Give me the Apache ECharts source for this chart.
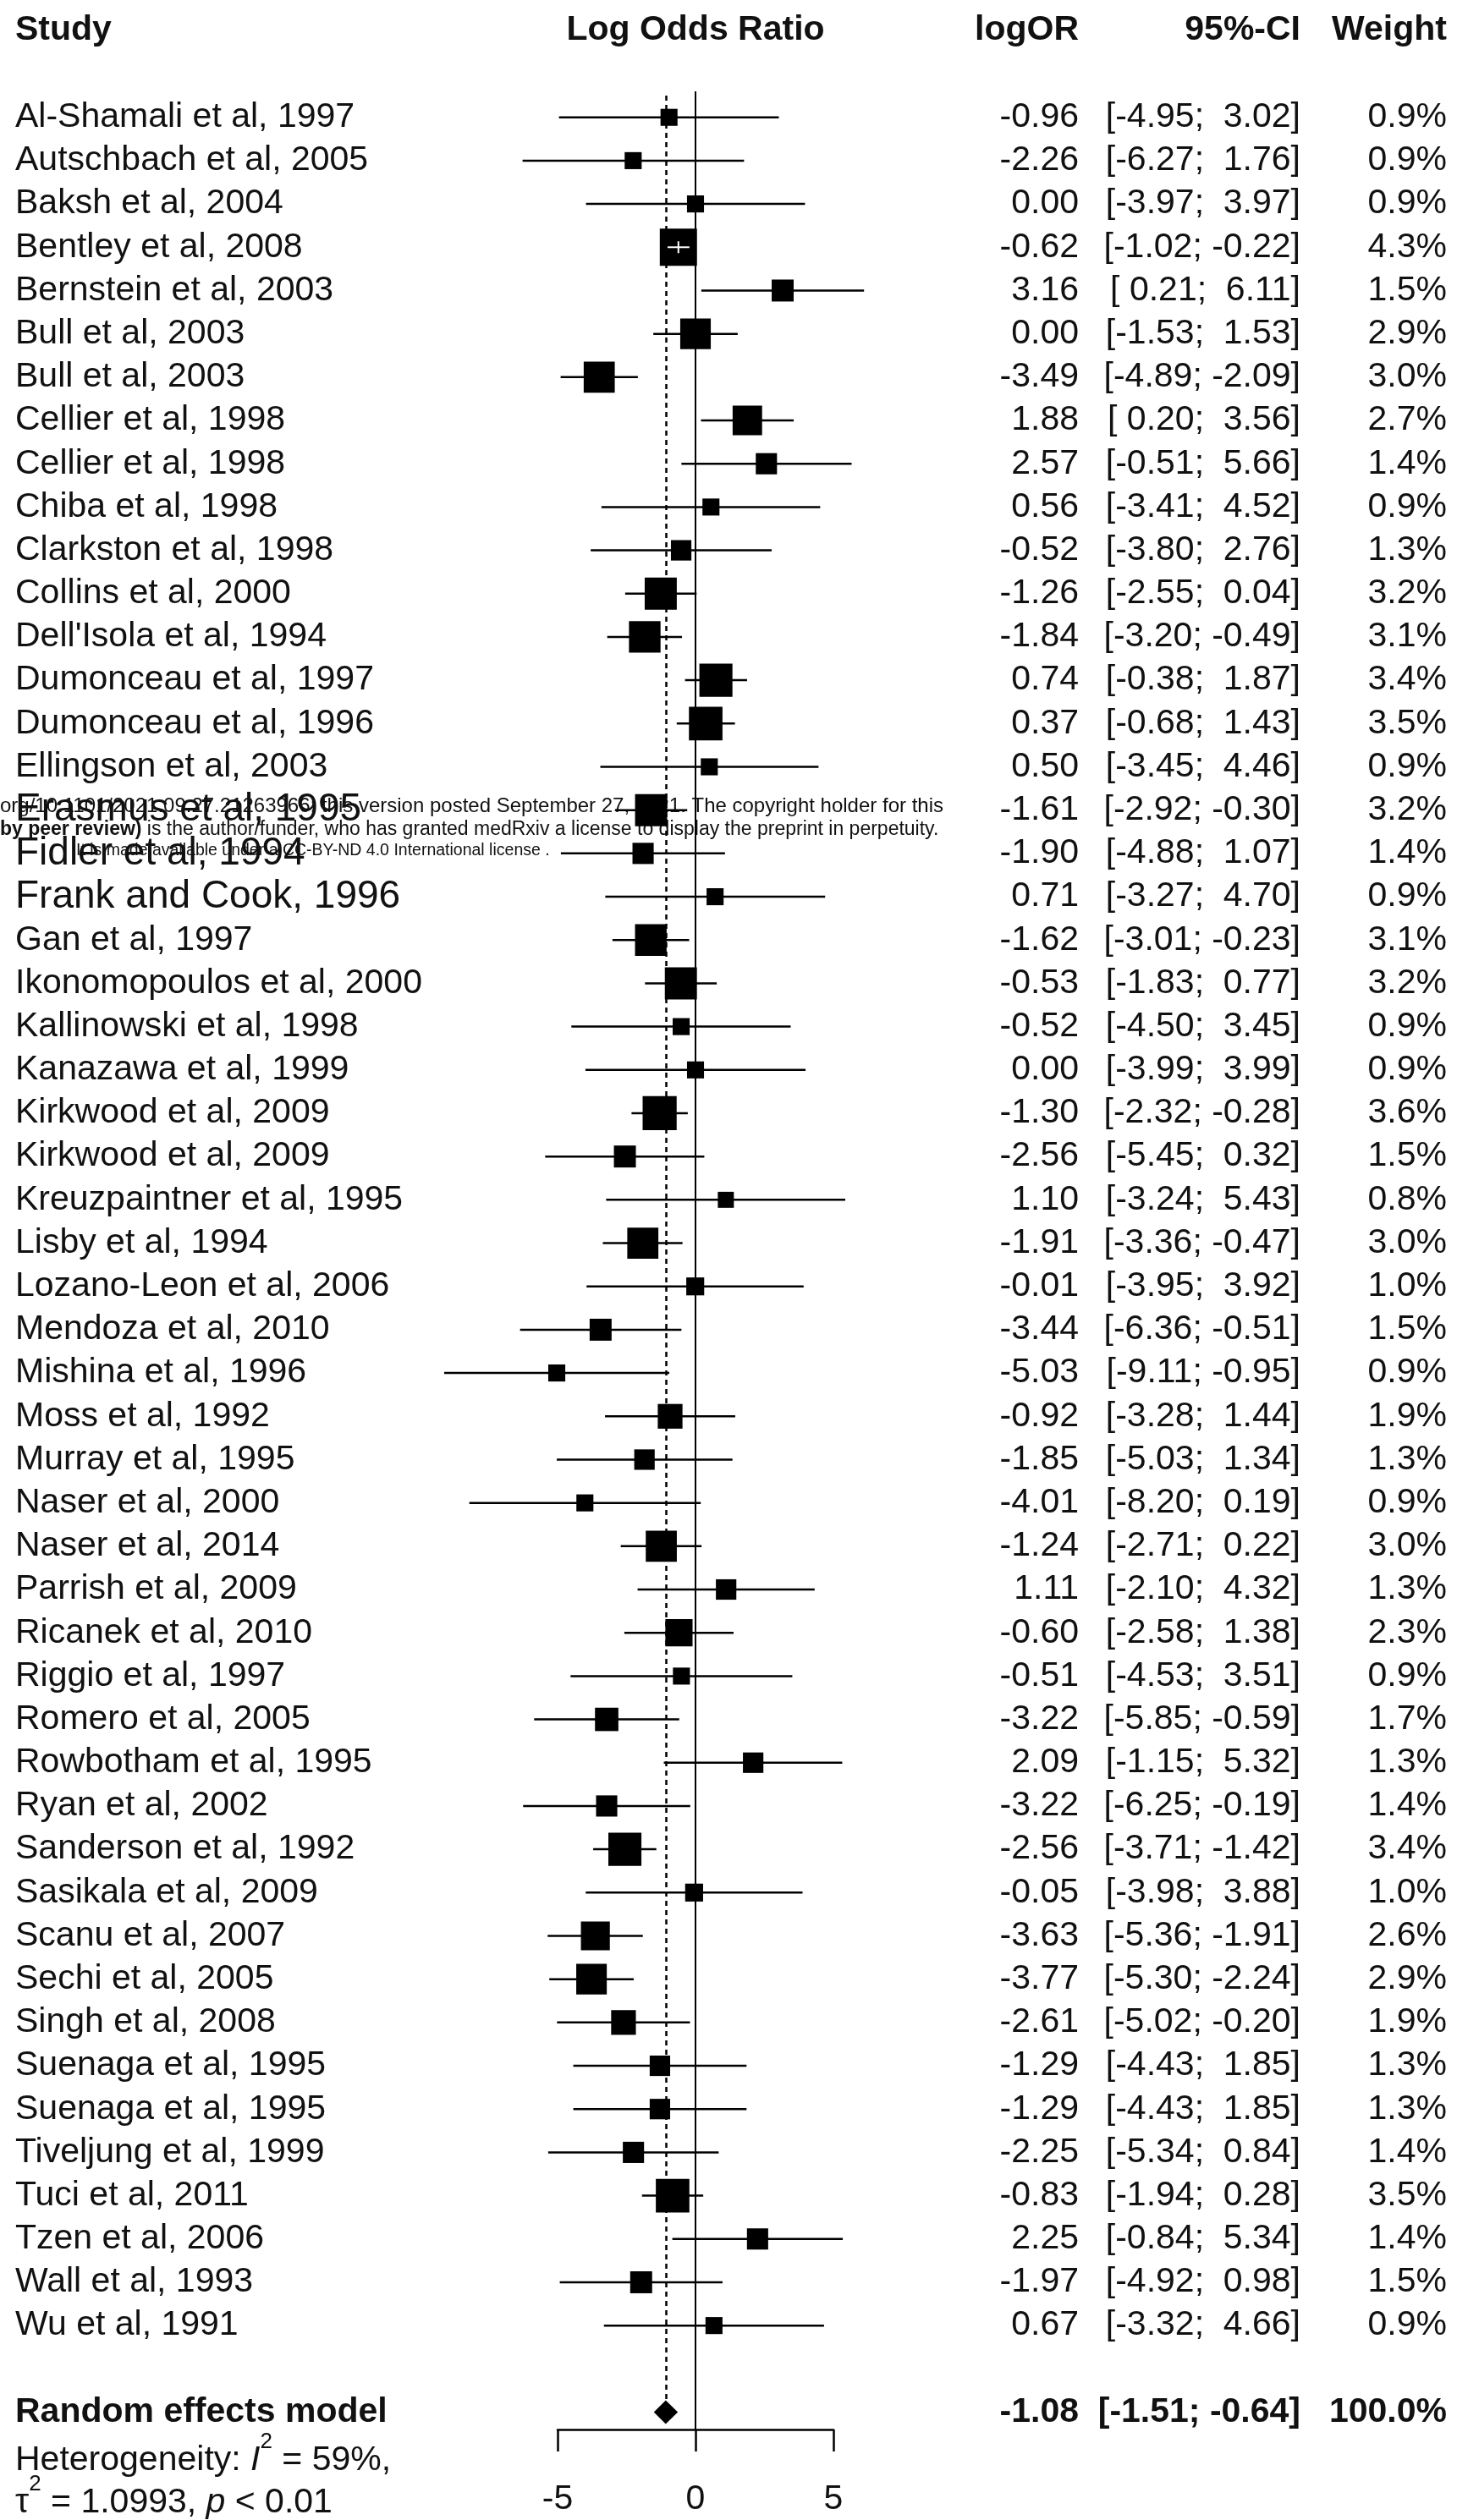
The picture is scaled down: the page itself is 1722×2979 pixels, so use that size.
<!DOCTYPE html>
<html>
<head>
<meta charset="utf-8">
<title>Forest plot - log odds ratio</title>
<script src="https://cdn.jsdelivr.net/npm/echarts@6/dist/echarts.min.js"></script>
<style>
  html, body { margin: 0; padding: 0; background: #fff; }
  #chart { width: 1722px; height: 2979px; }
</style>
</head>
<body>
<div id="chart"></div>
<script>
const studies = [
  'Al-Shamali et al, 1997', 'Autschbach et al, 2005', 'Baksh et al, 2004', 'Bentley et al, 2008',
  'Bernstein et al, 2003', 'Bull et al, 2003', 'Bull et al, 2003', 'Cellier et al, 1998',
  'Cellier et al, 1998', 'Chiba et al, 1998', 'Clarkston et al, 1998', 'Collins et al, 2000',
  "Dell'Isola et al, 1994", 'Dumonceau et al, 1997', 'Dumonceau et al, 1996', 'Ellingson et al, 2003',
  'Erasmus et al, 1995', 'Fidler et al, 1994', 'Frank and Cook, 1996', 'Gan et al, 1997',
  'Ikonomopoulos et al, 2000', 'Kallinowski et al, 1998', 'Kanazawa et al, 1999', 'Kirkwood et al, 2009',
  'Kirkwood et al, 2009', 'Kreuzpaintner et al, 1995', 'Lisby et al, 1994', 'Lozano-Leon et al, 2006',
  'Mendoza et al, 2010', 'Mishina et al, 1996', 'Moss et al, 1992', 'Murray et al, 1995',
  'Naser et al, 2000', 'Naser et al, 2014', 'Parrish et al, 2009', 'Ricanek et al, 2010',
  'Riggio et al, 1997', 'Romero et al, 2005', 'Rowbotham et al, 1995', 'Ryan et al, 2002',
  'Sanderson et al, 1992', 'Sasikala et al, 2009', 'Scanu et al, 2007', 'Sechi et al, 2005',
  'Singh et al, 2008', 'Suenaga et al, 1995', 'Suenaga et al, 1995', 'Tiveljung et al, 1999',
  'Tuci et al, 2011', 'Tzen et al, 2006', 'Wall et al, 1993', 'Wu et al, 1991'
];
const logOR = [
  -0.96, -2.26, 0.00, -0.62, 3.16, 0.00, -3.49, 1.88, 2.57, 0.56, -0.52, -1.26, -1.84,
  0.74, 0.37, 0.50, -1.61, -1.90, 0.71, -1.62, -0.53, -0.52, 0.00, -1.30, -2.56, 1.10,
  -1.91, -0.01, -3.44, -5.03, -0.92, -1.85, -4.01, -1.24, 1.11, -0.60, -0.51, -3.22, 2.09,
  -3.22, -2.56, -0.05, -3.63, -3.77, -2.61, -1.29, -1.29, -2.25, -0.83, 2.25, -1.97, 0.67
];
const ciLower = [
  -4.95, -6.27, -3.97, -1.02, 0.21, -1.53, -4.89, 0.20, -0.51, -3.41, -3.80, -2.55, -3.20,
  -0.38, -0.68, -3.45, -2.92, -4.88, -3.27, -3.01, -1.83, -4.50, -3.99, -2.32, -5.45, -3.24,
  -3.36, -3.95, -6.36, -9.11, -3.28, -5.03, -8.20, -2.71, -2.10, -2.58, -4.53, -5.85, -1.15,
  -6.25, -3.71, -3.98, -5.36, -5.30, -5.02, -4.43, -4.43, -5.34, -1.94, -0.84, -4.92, -3.32
];
const ciUpper = [
  3.02, 1.76, 3.97, -0.22, 6.11, 1.53, -2.09, 3.56, 5.66, 4.52, 2.76, 0.04, -0.49,
  1.87, 1.43, 4.46, -0.30, 1.07, 4.70, -0.23, 0.77, 3.45, 3.99, -0.28, 0.32, 5.43,
  -0.47, 3.92, -0.51, -0.95, 1.44, 1.34, 0.19, 0.22, 4.32, 1.38, 3.51, -0.59, 5.32,
  -0.19, -1.42, 3.88, -1.91, -2.24, -0.20, 1.85, 1.85, 0.84, 0.28, 5.34, 0.98, 4.66
];
const weights = [
  0.9, 0.9, 0.9, 4.3, 1.5, 2.9, 3.0, 2.7, 1.4, 0.9, 1.3, 3.2, 3.1,
  3.4, 3.5, 0.9, 3.2, 1.4, 0.9, 3.1, 3.2, 0.9, 0.9, 3.6, 1.5, 0.8,
  3.0, 1.0, 1.5, 0.9, 1.9, 1.3, 0.9, 3.0, 1.3, 2.3, 0.9, 1.7, 1.3,
  1.4, 3.4, 1.0, 2.6, 2.9, 1.9, 1.3, 1.3, 1.4, 3.5, 1.4, 1.5, 0.9
];

// random effects model
const pooledLabel = 'Random effects model';
const pooledEst = -1.08;
const pooledLower = -1.51;
const pooledUpper = -0.64;
const pooledWeight = 100.0;
const heterogeneityI2 = '59%';
const tau2 = '1.0993';
const pValue = '< 0.01';

const xTicks = [-5, 0, 5];

// layout
const FONT = '"Liberation Sans", Arial, sans-serif';
const TXT = '#111';
const FS = 41;
const LABEL_X = 18;
const COL_LOGOR = 1275;
const COL_CI = 1537;
const COL_W = 1710;
const AXIS_LEFT = 659;
const AXIS_WIDTH = 326;
const BOX_SCALE = 21.2;
const pooledRow = studies.length + 1;
const bigLabels = [16, 17, 18]; // rows printed larger in the source pdf

const fmt = v => v.toFixed(2);
const pad = v => (v >= 0 ? ' ' : '') + fmt(v);
const ciText = (lo, hi) => '[' + pad(lo) + '; ' + pad(hi) + ']';

const text = (x, y, str, align, extra) => ({
  type: 'text',
  x: x,
  y: y,
  style: Object.assign({
    text: str,
    fill: TXT,
    fontSize: FS,
    fontFamily: FONT,
    align: align,
    textAlign: align,
    verticalAlign: 'middle',
    textVerticalAlign: 'middle'
  }, extra || {})
});

const chart = echarts.init(document.getElementById('chart'), null, { renderer: 'canvas' });

const studyData = studies.map((s, i) => [i, logOR[i], ciLower[i], ciUpper[i], weights[i]]);

const renderStudy = (params, api) => {
  const i = api.value(0);
  const est = api.value(1);
  const lo = api.value(2);
  const hi = api.value(3);
  const w = api.value(4);
  const c = api.coord([est, i]);
  const pLo = api.coord([lo, i]);
  const pHi = api.coord([hi, i]);
  const side = BOX_SCALE * Math.sqrt(w);
  const children = [
    { type: 'line', shape: { x1: pLo[0], y1: c[1], x2: pHi[0], y2: c[1] }, style: { stroke: '#000', lineWidth: 2.5 } },
    { type: 'rect', shape: { x: c[0] - side / 2, y: c[1] - side / 2, width: side, height: side }, style: { fill: '#000' } }
  ];
  if (pHi[0] - pLo[0] < side) {
    // CI hidden inside the box: draw it in white
    children.push({ type: 'line', shape: { x1: pLo[0], y1: c[1], x2: pHi[0], y2: c[1] }, style: { stroke: '#fff', lineWidth: 2 } });
    children.push({ type: 'line', shape: { x1: c[0], y1: c[1] - 7, x2: c[0], y2: c[1] + 7 }, style: { stroke: '#fff', lineWidth: 2 } });
  }
  const big = bigLabels.indexOf(i) >= 0;
  children.push(text(LABEL_X, c[1], studies[i], 'left', big ? { fontSize: 46 } : null));
  children.push(text(COL_LOGOR, c[1], fmt(est), 'right'));
  children.push(text(COL_CI, c[1], ciText(lo, hi), 'right'));
  children.push(text(COL_W, c[1], w.toFixed(1) + '%', 'right'));
  return { type: 'group', children: children };
};

const renderPooled = (params, api) => {
  const r = api.value(0);
  const est = api.value(1);
  const lo = api.value(2);
  const hi = api.value(3);
  const w = api.value(4);
  const c = api.coord([est, r]);
  const pLo = api.coord([lo, r]);
  const pHi = api.coord([hi, r]);
  const h = 14;
  const bold = { fontWeight: 'bold' };
  return {
    type: 'group',
    children: [
      {
        type: 'polygon',
        shape: { points: [[pLo[0], c[1]], [c[0], c[1] - h], [pHi[0], c[1]], [c[0], c[1] + h]] },
        style: { fill: '#000' }
      },
      text(LABEL_X, c[1], pooledLabel, 'left', bold),
      text(COL_LOGOR, c[1], fmt(est), 'right', bold),
      text(COL_CI, c[1], ciText(lo, hi), 'right', bold),
      text(COL_W, c[1], w.toFixed(1) + '%', 'right', bold)
    ]
  };
};

const supRich = {
  n: { fontSize: FS, fontFamily: FONT, color: TXT, lineHeight: 70 },
  i: { fontSize: FS, fontFamily: FONT, color: TXT, fontStyle: 'italic', lineHeight: 70 },
  s: { fontSize: 26, fontFamily: FONT, color: TXT, lineHeight: 26, verticalAlign: 'top' }
};

// medRxiv stamp overlaid on the figure
const wm = size => ({ fontSize: size, fontFamily: FONT, color: '#111' });
const wmLink = size => ({ fontSize: size, fontFamily: FONT, color: '#2233dd' });

chart.setOption({
  animation: false,
  backgroundColor: '#fff',
  grid: { left: AXIS_LEFT, width: AXIS_WIDTH, top: 108, bottom: 107, containLabel: false },
  xAxis: {
    type: 'value',
    min: xTicks[0],
    max: xTicks[xTicks.length - 1],
    interval: xTicks[1] - xTicks[0],
    splitLine: { show: false },
    axisLine: { show: true, onZero: false, lineStyle: { color: '#000', width: 2.5 } },
    axisTick: { show: true, inside: false, length: 26, lineStyle: { color: '#000', width: 2.5 } },
    axisLabel: { color: TXT, fontSize: FS, fontFamily: FONT, margin: 62 }
  },
  yAxis: {
    type: 'value',
    inverse: true,
    min: -0.6,
    max: 53.4,
    show: false
  },
  graphic: [
    text(LABEL_X, 36, 'Study', 'left', { fontWeight: 'bold' }),
    text(AXIS_LEFT + AXIS_WIDTH / 2, 36, 'Log Odds Ratio', 'center', { fontWeight: 'bold' }),
    text(COL_LOGOR, 36, 'logOR', 'right', { fontWeight: 'bold' }),
    text(COL_CI, 36, '95%-CI', 'right', { fontWeight: 'bold' }),
    text(COL_W, 36, 'Weight', 'right', { fontWeight: 'bold' }),
    text(LABEL_X, 2909, '{n|Heterogeneity: }{i|I}{s|2}{n| = ' + heterogeneityI2 + ',}', 'left', { rich: supRich }),
    text(LABEL_X, 2959, '{n|τ}{s|2}{n| = ' + tau2 + ', }{i|p}{n| ' + pValue + '}', 'left', { rich: supRich }),
    text(0, 953, '{l|org/10.1101/2021.09.27.21263966}{n|; this version posted September 27, 2021. The copyright holder for this}', 'left',
      { rich: { n: wm(24), l: wmLink(24) } }),
    text(0, 981, '{b|by peer review)}{n| is the author/funder, who has granted medRxiv a license to display the preprint in perpetuity.}', 'left',
      { rich: { n: wm(23), b: Object.assign(wmLink(23), { fontWeight: 'bold' }) } }),
    text(90, 1006, '{n|It is made available under a }{l|CC-BY-ND 4.0 International license}{n| .}', 'left',
      { rich: { n: wm(19.5), l: wmLink(19.5) } })
  ],
  series: [
    {
      type: 'custom',
      name: 'studies',
      clip: false,
      renderItem: renderStudy,
      encode: { x: [1, 2, 3], y: 0 },
      data: studyData,
      z: 3,
      markLine: {
        silent: true,
        symbol: ['none', 'none'],
        label: { show: false },
        data: [
          [{ coord: [0, -0.6], lineStyle: { color: '#000', width: 2, type: 'solid' } }, { coord: [0, 53.4] }],
          [{ coord: [pooledEst, -0.5], lineStyle: { color: '#000', width: 2.5, type: [6, 5] } }, { coord: [pooledEst, pooledRow - 0.27] }]
        ]
      }
    },
    {
      type: 'custom',
      name: 'pooled',
      clip: false,
      renderItem: renderPooled,
      encode: { x: [1, 2, 3], y: 0 },
      data: [[pooledRow, pooledEst, pooledLower, pooledUpper, pooledWeight]],
      z: 3
    }
  ]
});
</script>
</body>
</html>
